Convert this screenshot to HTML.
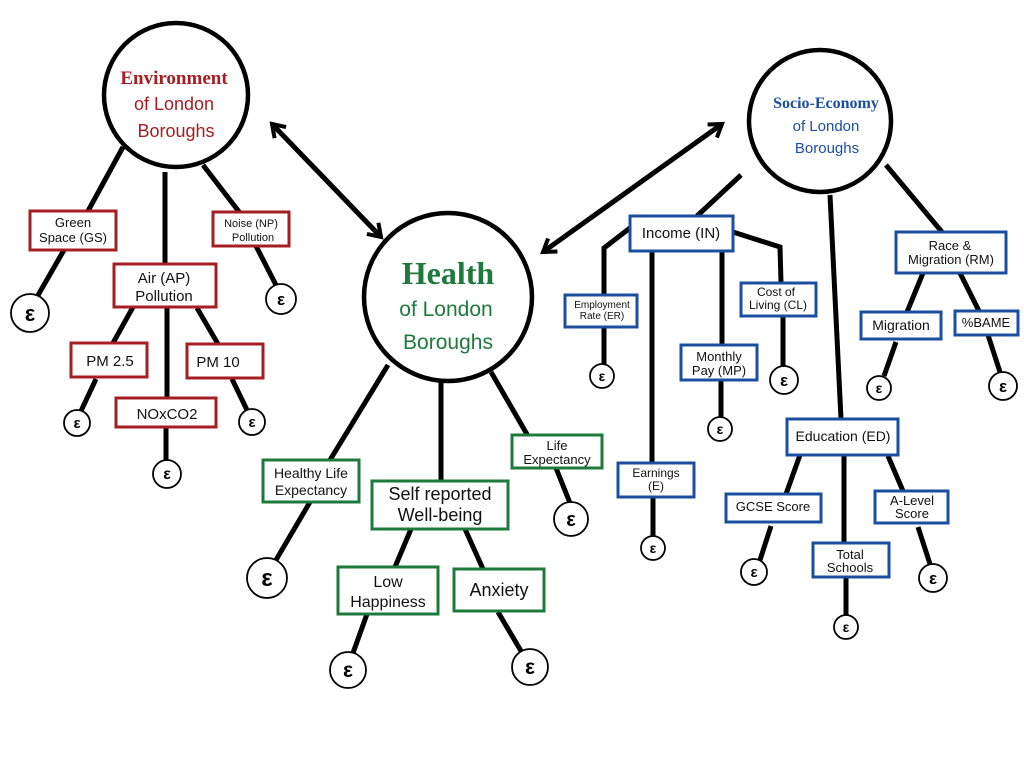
<!DOCTYPE html>
<html><head><meta charset="utf-8"><style>
html,body{margin:0;padding:0;background:#fff;}
svg{display:block;font-family:"Liberation Sans",sans-serif;}
</style></head><body>
<svg width="1024" height="768" viewBox="0 0 1024 768" xmlns="http://www.w3.org/2000/svg">
<defs>
<marker id="ah" markerWidth="10" markerHeight="10" refX="8" refY="5" orient="auto" markerUnits="userSpaceOnUse">
<path d="M1,0 L9,5 L1,10" fill="none" stroke="#000" stroke-width="3"/>
</marker>
<marker id="ah2" markerWidth="20" markerHeight="20" refX="15" refY="10" orient="auto-start-reverse" markerUnits="userSpaceOnUse">
<path d="M3,2 L15,10 L3,18" fill="none" stroke="#000" stroke-width="4"/>
</marker>
</defs>
<g stroke="#000" stroke-width="5" fill="none" stroke-linecap="butt">
<!-- arrows -->
<line x1="272" y1="124" x2="381" y2="237" marker-start="url(#ah2)" marker-end="url(#ah2)"/>
<line x1="543" y1="252" x2="722" y2="124" marker-start="url(#ah2)" marker-end="url(#ah2)"/>
<!-- environment -->
<line x1="123" y1="147" x2="88" y2="211"/>
<line x1="165" y1="172" x2="165" y2="264"/>
<line x1="203" y1="165" x2="240" y2="213"/>
<line x1="64" y1="250" x2="37" y2="297"/>
<line x1="256" y1="246" x2="276" y2="285"/>
<line x1="133" y1="307" x2="113" y2="343"/>
<line x1="197" y1="308" x2="218" y2="344"/>
<line x1="167" y1="307" x2="167" y2="398"/>
<line x1="96" y1="379" x2="81" y2="411"/>
<line x1="232" y1="379" x2="247" y2="410"/>
<line x1="166" y1="427" x2="166" y2="461"/>
<!-- health -->
<line x1="388" y1="365" x2="330" y2="460"/>
<line x1="441" y1="382" x2="441" y2="481"/>
<line x1="491" y1="372" x2="528" y2="436"/>
<line x1="310" y1="502" x2="276" y2="560"/>
<line x1="556" y1="468" x2="570" y2="503"/>
<line x1="411" y1="529" x2="395" y2="567"/>
<line x1="465" y1="529" x2="483" y2="569"/>
<line x1="367" y1="614" x2="353" y2="653"/>
<line x1="498" y1="612" x2="521" y2="651"/>
<!-- socio -->
<line x1="741" y1="175" x2="697" y2="216"/>
<polyline points="630,228 604,248 604,295"/>
<line x1="604" y1="327" x2="604" y2="364"/>
<line x1="652" y1="252" x2="652" y2="463"/>
<line x1="653" y1="497" x2="653" y2="536"/>
<line x1="722" y1="252" x2="722" y2="345"/>
<line x1="721" y1="380" x2="721" y2="417"/>
<polyline points="733,232 780,247 781,283"/>
<line x1="783" y1="316" x2="783" y2="366"/>
<line x1="830" y1="195" x2="841" y2="419"/>
<line x1="886" y1="165" x2="942" y2="232"/>
<line x1="923" y1="273" x2="907" y2="312"/>
<line x1="960" y1="273" x2="979" y2="311"/>
<line x1="896" y1="342" x2="884" y2="376"/>
<line x1="988" y1="335" x2="1000" y2="372"/>
<line x1="800" y1="455" x2="786" y2="494"/>
<line x1="844" y1="455" x2="844" y2="543"/>
<line x1="888" y1="456" x2="903" y2="491"/>
<line x1="771" y1="526" x2="760" y2="560"/>
<line x1="846" y1="577" x2="846" y2="615"/>
<line x1="918" y1="527" x2="930" y2="564"/>
</g>
<!-- main circles -->
<g fill="#fff" stroke="#000" stroke-width="4.5">
<circle cx="176" cy="95" r="72"/>
<circle cx="448" cy="297" r="84"/>
<circle cx="820" cy="121" r="71"/>
</g>
<g text-anchor="middle">
<text x="174" y="84" font-family="Liberation Serif,serif" font-weight="bold" font-size="19" fill="#a51e22">Environment</text>
<text x="174" y="110" font-size="18" fill="#a51e22">of London</text>
<text x="176" y="137" font-size="18" fill="#a51e22">Boroughs</text>
<text x="448" y="284" font-family="Liberation Serif,serif" font-weight="bold" font-size="32" fill="#1d7a3a">Health</text>
<text x="446" y="316" font-size="21" fill="#1d7a3a">of London</text>
<text x="448" y="349" font-size="21" fill="#1d7a3a">Boroughs</text>
<text x="826" y="108" font-family="Liberation Serif,serif" font-weight="bold" font-size="16" fill="#1a4fa0">Socio-Economy</text>
<text x="826" y="131" font-size="15" fill="#1a4fa0">of London</text>
<text x="827" y="153" font-size="15" fill="#1a4fa0">Boroughs</text>
</g>
<!-- boxes -->
<g fill="#fff" stroke-width="3">
<g stroke="#a51e22">
<rect x="30" y="211" width="86" height="39"/>
<rect x="213" y="212" width="76" height="34"/>
<rect x="114" y="264" width="102" height="43"/>
<rect x="71" y="343" width="76" height="34"/>
<rect x="187" y="344" width="76" height="34"/>
<rect x="116" y="398" width="100" height="29"/>
</g>
<g stroke="#1d7a3a">
<rect x="263" y="460" width="96" height="42"/>
<rect x="372" y="481" width="136" height="48"/>
<rect x="512" y="435" width="90" height="33"/>
<rect x="338" y="567" width="100" height="47"/>
<rect x="454" y="569" width="90" height="42"/>
</g>
<g stroke="#1a4fa0">
<rect x="630" y="216" width="103" height="35"/>
<rect x="565" y="295" width="72" height="32"/>
<rect x="618" y="463" width="76" height="34"/>
<rect x="681" y="345" width="76" height="35"/>
<rect x="741" y="283" width="75" height="33"/>
<rect x="787" y="419" width="111" height="36"/>
<rect x="896" y="232" width="110" height="41"/>
<rect x="861" y="312" width="80" height="27"/>
<rect x="955" y="311" width="63" height="24"/>
<rect x="726" y="494" width="95" height="28"/>
<rect x="813" y="543" width="76" height="34"/>
<rect x="875" y="491" width="73" height="32"/>
</g>
</g>
<!-- box labels -->
<g text-anchor="middle" fill="#111">
<text x="73" y="227" font-size="13">Green</text>
<text x="73" y="242" font-size="13">Space (GS)</text>
<text x="251" y="227" font-size="11">Noise (NP)</text>
<text x="253" y="241" font-size="11">Pollution</text>
<text x="164" y="283" font-size="15">Air (AP)</text>
<text x="164" y="301" font-size="15">Pollution</text>
<text x="110" y="366" font-size="15">PM 2.5</text>
<text x="218" y="367" font-size="15">PM 10</text>
<text x="167" y="419" font-size="15">NOxCO2</text>
<text x="311" y="478" font-size="14">Healthy Life</text>
<text x="311" y="495" font-size="14">Expectancy</text>
<text x="440" y="500" font-size="18">Self reported</text>
<text x="440" y="521" font-size="18">Well-being</text>
<text x="557" y="450" font-size="13">Life</text>
<text x="557" y="464" font-size="13">Expectancy</text>
<text x="388" y="587" font-size="16">Low</text>
<text x="388" y="607" font-size="16">Happiness</text>
<text x="499" y="596" font-size="18">Anxiety</text>
<text x="681" y="238" font-size="15">Income (IN)</text>
<text x="602" y="308" font-size="10">Employment</text>
<text x="602" y="319" font-size="10">Rate (ER)</text>
<text x="656" y="477" font-size="12">Earnings</text>
<text x="656" y="490" font-size="12">(E)</text>
<text x="719" y="361" font-size="13">Monthly</text>
<text x="719" y="375" font-size="13">Pay (MP)</text>
<text x="776" y="296" font-size="12">Cost of</text>
<text x="778" y="309" font-size="12">Living (CL)</text>
<text x="843" y="441" font-size="14">Education (ED)</text>
<text x="950" y="250" font-size="13">Race &amp;</text>
<text x="951" y="264" font-size="13">Migration (RM)</text>
<text x="901" y="330" font-size="14">Migration</text>
<text x="986" y="327" font-size="13">%BAME</text>
<text x="773" y="511" font-size="13">GCSE Score</text>
<text x="850" y="559" font-size="13">Total</text>
<text x="850" y="572" font-size="13">Schools</text>
<text x="912" y="505" font-size="13">A-Level</text>
<text x="912" y="518" font-size="13">Score</text>
</g>
<!-- epsilons -->
<g fill="#fff" stroke="#000" stroke-width="1.8">
<circle cx="30" cy="313" r="19"/>
<circle cx="281" cy="299" r="15"/>
<circle cx="77" cy="423" r="13"/>
<circle cx="252" cy="422" r="13"/>
<circle cx="167" cy="474" r="14"/>
<circle cx="267" cy="578" r="20"/>
<circle cx="571" cy="519" r="17"/>
<circle cx="348" cy="670" r="18"/>
<circle cx="530" cy="667" r="18"/>
<circle cx="602" cy="376" r="12"/>
<circle cx="653" cy="548" r="12"/>
<circle cx="720" cy="429" r="12"/>
<circle cx="784" cy="380" r="14"/>
<circle cx="879" cy="388" r="12"/>
<circle cx="1003" cy="386" r="14"/>
<circle cx="754" cy="572" r="13"/>
<circle cx="846" cy="627" r="12"/>
<circle cx="933" cy="578" r="14"/>
</g>
<g text-anchor="middle" font-weight="bold" fill="#000">
<text x="30" y="321" font-size="22">ε</text>
<text x="281" y="305" font-size="17">ε</text>
<text x="77" y="428" font-size="15">ε</text>
<text x="252" y="427" font-size="15">ε</text>
<text x="167" y="479" font-size="16">ε</text>
<text x="267" y="586" font-size="24">ε</text>
<text x="571" y="526" font-size="20">ε</text>
<text x="348" y="677" font-size="21">ε</text>
<text x="530" y="674" font-size="21">ε</text>
<text x="602" y="381" font-size="14">ε</text>
<text x="653" y="553" font-size="14">ε</text>
<text x="720" y="434" font-size="14">ε</text>
<text x="784" y="386" font-size="17">ε</text>
<text x="879" y="393" font-size="14">ε</text>
<text x="1003" y="392" font-size="17">ε</text>
<text x="754" y="577" font-size="15">ε</text>
<text x="846" y="632" font-size="14">ε</text>
<text x="933" y="584" font-size="17">ε</text>
</g>
</svg>
</body></html>
